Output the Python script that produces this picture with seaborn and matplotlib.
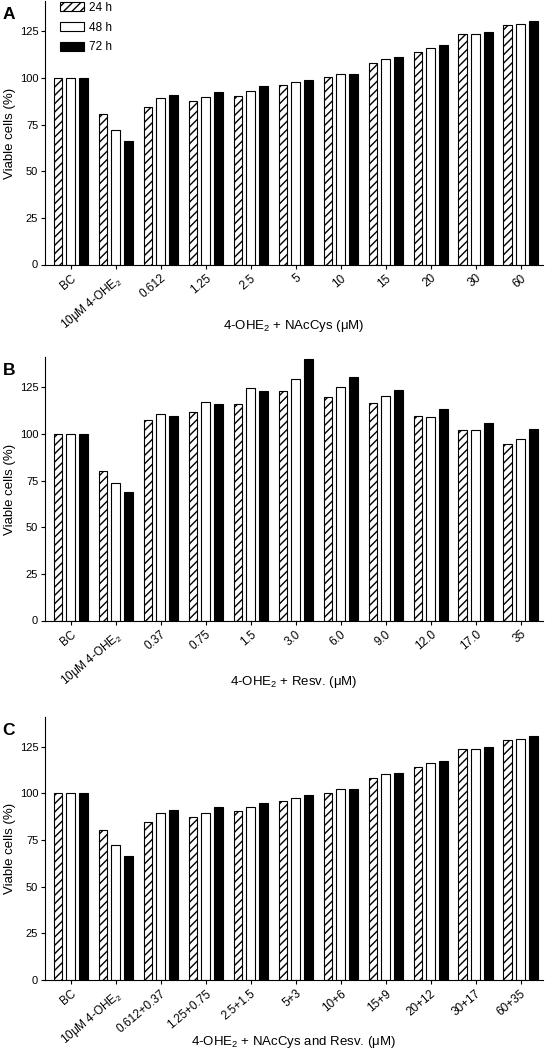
import numpy as np
import pandas as pd
import seaborn as sns
import matplotlib
matplotlib.use("Agg")
import matplotlib.pyplot as plt
from matplotlib.patches import Patch

sns.set_theme(style="ticks")
plt.rcParams['font.family'] = ['Liberation Sans', 'DejaVu Sans']
plt.rcParams['mathtext.fontset'] = 'custom'
plt.rcParams['mathtext.rm'] = 'Liberation Sans'
plt.rcParams['hatch.linewidth'] = 1.0
plt.rcParams['text.color'] = 'black'
plt.rcParams['axes.labelcolor'] = 'black'
plt.rcParams['xtick.color'] = 'black'
plt.rcParams['ytick.color'] = 'black'

# ---------------- data ----------------
times = ["24 h", "48 h", "72 h"]

cats_A = ["BC", "10\u03bcM 4-OHE$_\\mathregular{2}$", "0.612", "1.25", "2.5", "5", "10", "15", "20", "30", "60"]
A_24 = [100, 80.5, 84.5, 87.5, 90.3, 96.0, 100.4, 108.2, 113.8, 123.4, 128.3]
A_48 = [100, 72.3, 89.3, 89.8, 92.8, 97.8, 102.2, 110.1, 116.2, 123.4, 128.8]
A_72 = [100, 66.4, 91.0, 92.4, 95.5, 98.9, 102.1, 111.0, 117.4, 124.6, 130.3]

cats_B = ["BC", "10\u03bcM 4-OHE$_\\mathregular{2}$", "0.37", "0.75", "1.5", "3.0", "6.0", "9.0", "12.0", "17.0", "35"]
B_24 = [100, 80.0, 107.6, 111.9, 115.8, 123.2, 119.9, 116.6, 109.5, 102.1, 94.5]
B_48 = [100, 73.5, 110.4, 117.3, 124.7, 129.5, 125.4, 120.1, 109.1, 102.1, 97.1]
B_72 = [100, 68.8, 109.8, 116.2, 123.1, 140.2, 130.6, 123.7, 113.2, 105.7, 102.8]

cats_C = ["BC", "10\u03bcM 4-OHE$_\\mathregular{2}$", "0.612+0.37", "1.25+0.75", "2.5+1.5", "5+3", "10+6", "15+9", "20+12", "30+17", "60+35"]
C_24 = [100, 80.2, 84.7, 87.5, 90.6, 95.7, 100.2, 108.3, 114.1, 123.6, 128.6]
C_48 = [100, 72.3, 89.3, 89.6, 92.8, 97.8, 102.1, 110.3, 116.2, 123.6, 129.0]
C_72 = [100, 66.4, 91.0, 92.5, 94.8, 98.9, 102.3, 111.0, 117.4, 125.0, 130.6]

xlabels = ["4-OHE$_\\mathregular{2}$ + NAcCys (\u03bcM)",
           "4-OHE$_\\mathregular{2}$ + Resv. (\u03bcM)",
           "4-OHE$_\\mathregular{2}$ + NAcCys and Resv. (\u03bcM)"]
panel_letters = ["A", "B", "C"]
yticks = [0, 25, 50, 75, 100, 125]

colors = ["white", "white", "black"]
hatches = ["////", "", ""]

W, H = 546, 1050
fig = plt.figure(figsize=(W / 100, H / 100), dpi=100)

def px_axes(left, right, top, bottom):
    return fig.add_axes([left / W, 1 - bottom / H, (right - left) / W, (bottom - top) / H])

panels = [
    (cats_A, A_24, A_48, A_72, 264.5),
    (cats_B, B_24, B_48, B_72, 620.5),
    (cats_C, C_24, C_48, C_72, 980.0),
]
ymax = 141
pxu = 1.866

for i, (cats, v24, v48, v72, y0) in enumerate(panels):
    top = y0 - ymax * pxu
    ax = px_axes(44.5, 543, top, y0)
    df = pd.DataFrame({
        "cat": cats * 3,
        "time": [times[0]] * len(cats) + [times[1]] * len(cats) + [times[2]] * len(cats),
        "val": list(v24) + list(v48) + list(v72),
    })
    sns.barplot(data=df, x="cat", y="val", hue="time", hue_order=times, order=cats,
                palette=colors, edgecolor="black", linewidth=0.8, width=0.85, gap=0.33,
                legend=False, ax=ax, saturation=1)
    for cont, h in zip(ax.containers, hatches):
        for p in cont.patches:
            p.set_hatch(h)
    ax.set_xlim(-0.58, 10.5)
    ax.set_ylim(0, ymax)
    ax.set_yticks(yticks)
    sns.despine(ax=ax)
    for s in ["left", "bottom"]:
        ax.spines[s].set_linewidth(0.8)
        ax.spines[s].set_color("black")
    ax.tick_params(axis="y", length=3, width=0.8, labelsize=8, pad=1.5, colors="black")
    ax.tick_params(axis="x", length=3, width=0.8, labelsize=8.5, pad=2.5, colors="black")
    plt.setp(ax.get_xticklabels(), rotation=40, ha="right", va="top", rotation_mode="anchor")
    ax.set_ylabel("Viable cells (%)", fontsize=9.5)
    ax.yaxis.set_label_coords(-0.058, 0.5)
    ax.set_xlabel(xlabels[i], fontsize=9.5)
    ax.xaxis.set_label_coords(0.5, -54 / (y0 - top))
    ax.set_facecolor("white")
    fig.text(2.5 / W, 1 - (top + 6) / H, panel_letters[i], fontsize=12.5, fontweight="bold",
             ha="left", va="top")
    if i == 0:
        handles = [Patch(facecolor=c, edgecolor="black", hatch=h, linewidth=0.8)
                   for c, h in zip(colors, hatches)]
        ax.legend(handles, times, loc="upper left", bbox_to_anchor=(60 / W, 1 - 2 / H),
                  bbox_transform=fig.transFigure, frameon=False, fontsize=8.5,
                  handlelength=2.0, handleheight=0.8, handletextpad=0.45,
                  labelspacing=0.65, borderpad=0, borderaxespad=0)

fig.savefig("out.png", dpi=100, facecolor="white")
